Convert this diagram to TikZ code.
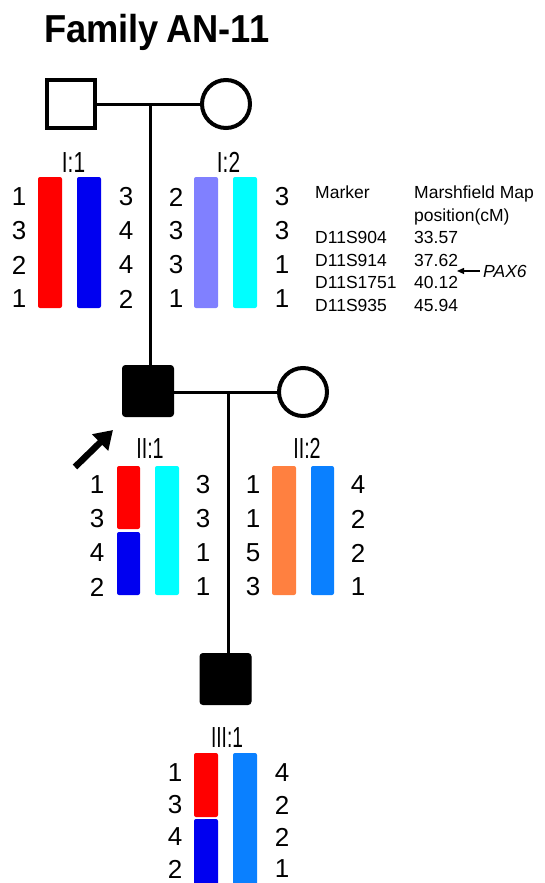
\documentclass[tikz,border=0pt]{standalone}
\usepackage{fontspec}
\setmainfont{Liberation Sans}
\usetikzlibrary{arrows.meta}
\definecolor{cred}{HTML}{FF0000}
\definecolor{cblue}{HTML}{0000F0}
\definecolor{clav}{HTML}{8080FF}
\definecolor{ccyan}{HTML}{00FFFF}
\definecolor{corange}{HTML}{FF8040}
\definecolor{cazure}{HTML}{0A80FF}
\begin{document}
\begin{tikzpicture}[x=1pt,y=-1pt,
  male/.style={draw,rectangle,line width=4pt,minimum size=48pt,inner sep=0pt},
  affected/.style={draw,fill=black,rectangle,line width=1pt,rounded corners=3pt,minimum size=51pt,inner sep=0pt},
  female/.style={draw,circle,line width=4pt,minimum size=48pt,inner sep=0pt},
  rel/.style={line width=3pt},
  num/.style={font=\fontsize{26}{26}\selectfont,inner sep=0pt},
  lab/.style={font=\fontsize{29}{29}\selectfont,inner sep=0pt,anchor=base},
  bar/.style={rounded corners=2pt},
  tab/.style={font=\fontsize{17.5}{17.5}\selectfont,anchor=base west,inner sep=0pt}]
\useasboundingbox (0,0) rectangle (544,883);
\clip (0,0) rectangle (544,883);

% title
\node[anchor=base west,inner sep=0pt,font=\bfseries\fontsize{39}{39}\selectfont] (title) at (44,43) {\scalebox{0.93}[1]{Family\hspace{-3pt} AN-11}};

% pedigree symbols
\node[male] (I1) at (71,104) {};
\node[female] (I2) at (226,104) {};
\node[affected] (II1) at (148,391) {};
\node[female] (II2) at (303,392) {};
\node[affected] (III1) at (225.5,679) {};

\coordinate (m1) at (150,104);
\coordinate (m2) at (228,392);
\draw[rel] (I1.east) -- (I2.west);
\draw[rel] (m1) -- (m1|-II1.north);
\draw[rel] (II1.east|-II2.west) -- (II2.west);
\draw[rel] (m2) -- (m2|-III1.north);

% proband arrow
\coordinate (pbs) at (75,467);
\coordinate (pbt) at (113,430);
\draw[line width=6.5pt,-{Triangle[length=18pt,width=22pt]}] (pbs) -- (pbt);

% labels
\node[lab] (lI1) at (73.5,172) {\scalebox{0.72}[1]{I:1}};
\node[lab] (lI2) at (228.5,172) {\scalebox{0.72}[1]{I:2}};
\node[lab] (lII1) at (150,458) {\scalebox{0.68}[1]{II:1}};
\node[lab] (lII2) at (307,458) {\scalebox{0.68}[1]{II:2}};
\node[lab] (lIII1) at (227,747) {\scalebox{0.66}[1]{III:1}};

% generation I bars
\fill[cred,bar] (38,177) rectangle (62,308);
\fill[cblue,bar] (77,177) rectangle (101,308);
\fill[clav,bar] (194,177) rectangle (218,308);
\fill[ccyan,bar] (233,177) rectangle (257,308);

% generation II bars
\fill[cred,bar] (117,466) rectangle (140,529);
\fill[cblue,bar] (117,532) rectangle (140,595);
\fill[ccyan,bar] (155,466) rectangle (179,595);
\fill[corange,bar] (272,466) rectangle (296,595);
\fill[cazure,bar] (311,466) rectangle (334,595);

% generation III bars
\fill[cred,bar] (194,753) rectangle (218,817);
\fill[cblue,bar] (194,819) rectangle (218,895);
\fill[cazure,bar] (233,753) rectangle (257,895);

% numbers generation I
\foreach \v/\yy [count=\i] in {1/197,3/231,2/265,1/299} \node[num] (aL\i) at (19,\yy) {\v};
\foreach \v/\yy [count=\i] in {3/197,4/231,4/265,2/299} \node[num] (aR\i) at (126,\yy) {\v};
\foreach \v/\yy [count=\i] in {2/197,3/231,3/265,1/299} \node[num] (bL\i) at (176,\yy) {\v};
\foreach \v/\yy [count=\i] in {3/197,3/231,1/265,1/299} \node[num] (bR\i) at (282,\yy) {\v};

% numbers generation II
\foreach \v/\yy [count=\i] in {1/485,3/519,4/553,2/587} \node[num] (cL\i) at (97,\yy) {\v};
\foreach \v/\yy [count=\i] in {3/485,3/519,1/553,1/587} \node[num] (cR\i) at (203,\yy) {\v};
\foreach \v/\yy [count=\i] in {1/485,1/519,5/553,3/587} \node[num] (dL\i) at (253,\yy) {\v};
\foreach \v/\yy [count=\i] in {4/485,2/519,2/553,1/587} \node[num] (dR\i) at (358,\yy) {\v};

% numbers generation III
\foreach \v/\yy [count=\i] in {1/773,3/805,4/837,2/869} \node[num] (eL\i) at (175,\yy) {\v};
\foreach \v/\yy [count=\i] in {4/773,2/805,2/837,1/869} \node[num] (eR\i) at (282,\yy) {\v};

% marker table
\node[tab] (h1) at (315,198) {Marker};
\node[tab] (h2) at (414,198) {Marshfield Map};
\node[tab] (h3) at (414,221) {position(cM)};
\node[tab] (r1a) at (315,243) {D11S904};
\node[tab] (r1b) at (414,243) {33.57};
\node[tab] (r2a) at (315,266) {D11S914};
\node[tab] (r2b) at (414,266) {37.62};
\node[tab] (r3a) at (315,288) {D11S1751};
\node[tab] (r3b) at (414,288) {40.12};
\node[tab] (r4a) at (315,311) {D11S935};
\node[tab] (r4b) at (414,311) {45.94};
\node[tab] (pax) at (483,277) {\itshape PAX6};
\coordinate (paxtip) at (457,270);
\draw[line width=1.2pt,-{Triangle[length=7pt,width=6pt]},shorten <=3pt] (pax.west) -- (paxtip|-pax.west);
\end{tikzpicture}
\end{document}
